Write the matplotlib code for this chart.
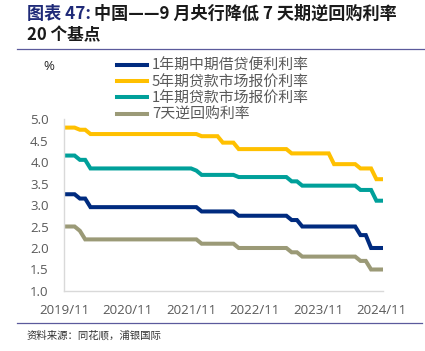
import matplotlib
matplotlib.use('Agg')

import matplotlib.pyplot as plt
from matplotlib.lines import Line2D
import numpy as np
import pandas as pd

plt.rcParams['font.family'] = ['Noto Sans CJK SC', 'DejaVu Sans']

# --- data: monthly policy rates (%), 2019/11 .. 2024/11
months = pd.period_range('2019-11', '2024-11', freq='M')

mlf_1y = [3.25, 3.25, 3.25, 3.15, 3.15, 2.95, 2.95, 2.95, 2.95, 2.95, 2.95, 2.95,
          2.95, 2.95, 2.95, 2.95, 2.95, 2.95, 2.95, 2.95, 2.95, 2.95, 2.95, 2.95,
          2.95, 2.95, 2.85, 2.85, 2.85, 2.85, 2.85, 2.85, 2.85, 2.75, 2.75, 2.75,
          2.75, 2.75, 2.75, 2.75, 2.75, 2.75, 2.75, 2.65, 2.65, 2.50, 2.50, 2.50,
          2.50, 2.50, 2.50, 2.50, 2.50, 2.50, 2.50, 2.50, 2.30, 2.30, 2.00, 2.00,
          2.00]

lpr_5y = [4.80, 4.80, 4.80, 4.75, 4.75, 4.65, 4.65, 4.65, 4.65, 4.65, 4.65, 4.65,
          4.65, 4.65, 4.65, 4.65, 4.65, 4.65, 4.65, 4.65, 4.65, 4.65, 4.65, 4.65,
          4.65, 4.65, 4.60, 4.60, 4.60, 4.60, 4.45, 4.45, 4.45, 4.30, 4.30, 4.30,
          4.30, 4.30, 4.30, 4.30, 4.30, 4.30, 4.30, 4.20, 4.20, 4.20, 4.20, 4.20,
          4.20, 4.20, 4.20, 3.95, 3.95, 3.95, 3.95, 3.95, 3.85, 3.85, 3.85, 3.60,
          3.60]

lpr_1y = [4.15, 4.15, 4.15, 4.05, 4.05, 3.85, 3.85, 3.85, 3.85, 3.85, 3.85, 3.85,
          3.85, 3.85, 3.85, 3.85, 3.85, 3.85, 3.85, 3.85, 3.85, 3.85, 3.85, 3.85,
          3.85, 3.80, 3.70, 3.70, 3.70, 3.70, 3.70, 3.70, 3.70, 3.65, 3.65, 3.65,
          3.65, 3.65, 3.65, 3.65, 3.65, 3.65, 3.65, 3.55, 3.55, 3.45, 3.45, 3.45,
          3.45, 3.45, 3.45, 3.45, 3.45, 3.45, 3.45, 3.45, 3.35, 3.35, 3.35, 3.10,
          3.10]

rr_7d = [2.50, 2.50, 2.50, 2.40, 2.20, 2.20, 2.20, 2.20, 2.20, 2.20, 2.20, 2.20,
         2.20, 2.20, 2.20, 2.20, 2.20, 2.20, 2.20, 2.20, 2.20, 2.20, 2.20, 2.20,
         2.20, 2.20, 2.10, 2.10, 2.10, 2.10, 2.10, 2.10, 2.10, 2.00, 2.00, 2.00,
         2.00, 2.00, 2.00, 2.00, 2.00, 2.00, 2.00, 1.90, 1.90, 1.80, 1.80, 1.80,
         1.80, 1.80, 1.80, 1.80, 1.80, 1.80, 1.80, 1.80, 1.70, 1.70, 1.50, 1.50,
         1.50]

labels = ['1年期中期借贷便利利率', '5年期贷款市场报价利率', '1年期贷款市场报价利率', '7天逆回购利率']
colors = ['#002B7F', '#FFC000', '#00A09A', '#9B9A77']
yticks = [1.0, 1.5, 2.0, 2.5, 3.0, 3.5, 4.0, 4.5, 5.0]

# --- figure
W, H = 425, 351
fig = plt.figure(figsize=(W / 100, H / 100), dpi=100)
ax = fig.add_axes([64 / W, 1 - 291 / H, (383 - 64) / W, (291 - 119) / H])

x = np.arange(len(months))
for series, lab, col in zip([mlf_1y, lpr_5y, lpr_1y, rr_7d], labels, colors):
    ax.plot(x, series, color=col, linewidth=2.9, label=lab, solid_joinstyle='miter')

ax.set_ylim(1.0, 5.0)
ax.set_xlim(0, len(months) - 0.75)
ax.set_yticks(yticks)
ax.set_yticklabels(['%.1f' % v for v in yticks], family='Open Sans', fontsize=9.5, color='#595959')
tick_pos = [i for i, m in enumerate(months) if m.month == 11]
ax.set_xticks(tick_pos)
ax.set_xticklabels([months[i].strftime('%Y/%m') for i in tick_pos],
                   family='Open Sans', fontsize=9.5, color='#595959')
ax.tick_params(axis='both', length=0)
ax.tick_params(axis='y', pad=11)
ax.tick_params(axis='x', pad=9)
for s in ['top', 'right']:
    ax.spines[s].set_visible(False)
for s in ['left', 'bottom']:
    ax.spines[s].set_color('#D9D9D9')
    ax.spines[s].set_linewidth(1.0)

fig.text(49 / W, 1 - 67 / H, '%', ha='center', va='center', fontsize=9.5,
         family='Open Sans', color='#262626')

leg = fig.legend(loc='upper left', bbox_to_anchor=(117 / W, 1 - 59 / H), frameon=False,
                 fontsize=10.7, handlelength=2.05, handletextpad=0.3, labelspacing=0.14,
                 borderpad=0, borderaxespad=0)
for t in leg.get_texts():
    t.set_color('#595959')

# --- title
renderer = fig.canvas.get_renderer()
t1 = fig.text(27 / W, 1 - 14 / H, '图表 47:', ha='left', va='center', fontsize=12.3,
              fontweight='bold', color='#1F2A78')
bb = t1.get_window_extent(renderer)
fig.text(bb.x1 / W + 3 / W, 1 - 14 / H, '中国——9 月央行降低 7 天期逆回购利率', ha='left',
         va='center', fontsize=12.3, fontweight='bold', color='#1A1A1A')
fig.text(27 / W, 1 - 35 / H, '20 个基点', ha='left', va='center', fontsize=12,
         fontweight='bold', color='#1A1A1A')

fig.add_artist(Line2D([17 / W, 1.0], [1 - 48.5 / H] * 2, color='#5B5A9C', linewidth=0.9))
fig.add_artist(Line2D([17 / W, 422 / W], [1 - 323 / H] * 2, color='#5B5A9C', linewidth=0.9))

fig.text(27 / W, 1 - 335 / H, '资料来源：同花顺，浦银国际', ha='left', va='center', fontsize=7.5,
         color='#333333')

fig.savefig('out.png', dpi=100)
